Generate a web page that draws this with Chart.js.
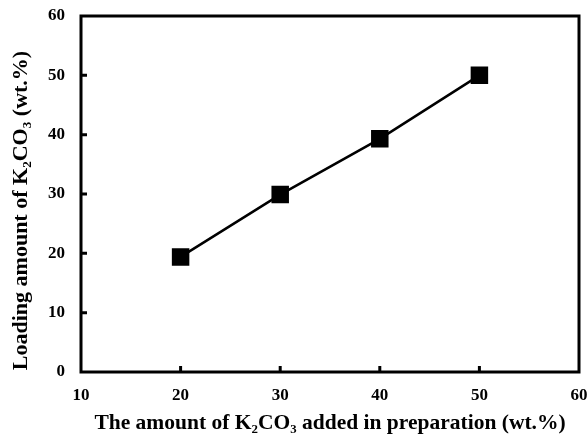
<!DOCTYPE html>
<html><head><meta charset="utf-8">
<script src="https://cdn.jsdelivr.net/npm/chart.js@4.4.0/dist/chart.umd.min.js"></script>
<style>html,body{margin:0;padding:0;background:#fff}#wrap{width:587px;height:436px}</style>
</head><body><div id="wrap"><canvas id="c" width="587" height="436"></canvas></div>
<script>
const xValues = [20, 30, 40, 50];
const loading = [19.4, 29.9, 39.3, 50.0];
const xTicks = [10, 20, 30, 40, 50, 60];
const yTicks = [0, 10, 20, 30, 40, 50, 60];
const xTitle = 'The amount of K\u2082CO\u2083 added in preparation (wt.%)';
const yTitle = 'Loading amount of K\u2082CO\u2083 (wt.%)\u2002\u2002\u2002';

const FONT = '"Liberation Serif", "Times New Roman", serif';

const frame = {
  id: 'frame',
  afterDatasetsDraw(chart) {
    const {ctx, chartArea: a, scales} = chart;
    ctx.save();
    ctx.strokeStyle = '#000';
    ctx.lineWidth = 3;
    ctx.strokeRect(a.left, a.top, a.right - a.left, a.bottom - a.top);
    ctx.beginPath();
    scales.x.ticks.forEach(t => {
      if (t.value === 10 || t.value === 60) return;
      const px = scales.x.getPixelForValue(t.value);
      ctx.moveTo(px, a.bottom); ctx.lineTo(px, a.bottom - 6);
    });
    scales.y.ticks.forEach(t => {
      if (t.value === 0 || t.value === 60) return;
      const py = scales.y.getPixelForValue(t.value);
      ctx.moveTo(a.left, py); ctx.lineTo(a.left + 6, py);
    });
    ctx.stroke();
    ctx.restore();
  }
};

function zeroPad(s) { s.paddingLeft = 0; s.paddingRight = 0; s.paddingTop = 0; s.paddingBottom = 0; }

new Chart(document.getElementById('c'), {
  type: 'scatter',
  data: {
    datasets: [{
      data: xValues.map((x, i) => ({x, y: loading[i]})),
      showLine: true,
      borderColor: '#000',
      borderWidth: 2.5,
      backgroundColor: '#000',
      pointStyle: 'rect',
      pointRadius: 10.6,
      pointHoverRadius: 10.6,
      tension: 0
    }]
  },
  options: {
    responsive: false,
    animation: false,
    events: [],
    layout: {autoPadding: false, padding: {top: 16, right: 8, left: 0, bottom: 0}},
    plugins: {legend: {display: false}, tooltip: {enabled: false}},
    scales: {
      x: {
        type: 'linear', min: 10, max: 60,
        afterBuildTicks: s => { s.ticks = xTicks.map(v => ({value: v})); },
        afterFit: s => { s.height = 64; zeroPad(s); },
        grid: {display: false, drawTicks: false},
        border: {display: false},
        ticks: {color: '#000', padding: 13, maxRotation: 0, font: {family: FONT, size: 17, weight: 'bold'}},
        title: {display: true, text: xTitle, color: '#000', padding: {top: 10, bottom: 0},
                font: {family: FONT, size: 21.5, weight: 'bold'}}
      },
      y: {
        type: 'linear', min: 0, max: 60,
        afterBuildTicks: s => { s.ticks = yTicks.map(v => ({value: v})); },
        afterFit: s => { s.width = 81; zeroPad(s); },
        grid: {display: false, drawTicks: false},
        border: {display: false},
        ticks: {color: '#000', padding: 16, font: {family: FONT, size: 17, weight: 'bold'}},
        title: {display: true, text: yTitle, color: '#000', padding: {top: 8, bottom: 0},
                font: {family: FONT, size: 22, weight: 'bold'}}
      }
    }
  },
  plugins: [frame]
});
</script></body></html>
